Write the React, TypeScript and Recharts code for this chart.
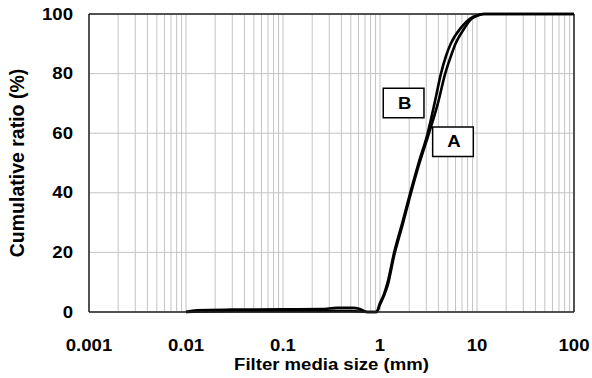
import React from "react";
import {
  LineChart,
  Line,
  XAxis,
  YAxis,
  CartesianGrid,
  ReferenceLine,
  ReferenceArea,
  Label,
} from "recharts";

// filter media A
const sizeA = [0.01, 0.02, 0.05, 0.2, 0.5, 0.75, 0.92, 1.0, 1.1, 1.2, 1.4, 1.7, 2.05, 2.5, 3.2, 3.95, 4.7, 5.4, 6.0, 7.5, 8.7, 10.5, 12, 100];
const ratioA = [0, 0.2, 0.3, 0.3, 0.3, 0, 0, 2.5, 5.5, 9, 19, 29, 39, 49, 60, 70, 80, 86, 90, 95.5, 98.3, 99.7, 100, 100];

// filter media B
const sizeB = [0.01, 0.013, 0.03, 0.1, 0.25, 0.36, 0.52, 0.62, 0.73, 0.92, 1.0, 1.1, 1.2, 1.4, 1.7, 2.05, 2.5, 3.1, 3.65, 4.25, 4.8, 5.36, 6.95, 8.5, 10.5, 11.5, 100];
const ratioB = [0, 0.6, 0.8, 0.9, 1.0, 1.4, 1.4, 1.0, 0, 0, 3, 6, 10, 20, 30, 40, 50, 60, 70, 80, 86, 90, 95.7, 98.5, 99.7, 100, 100];

const decades = [0.001, 0.01, 0.1, 1, 10, 100];
const multipliers = [1, 2, 3, 4, 5, 6, 7, 8, 9];
const yTicks = [0, 20, 40, 60, 80, 100];

const gridTicks = decades
  .slice(0, -1)
  .flatMap((d) => multipliers.map((m) => Number((d * m).toPrecision(3))))
  .concat([100]);

const dataA = sizeA.map((x, i) => ({ x, y: ratioA[i] }));
const dataB = sizeB.map((x, i) => ({ x, y: ratioB[i] }));

const font = "'Liberation Sans', Arial, sans-serif";
const textStyle = { fontSize: 16, fontWeight: "bold" as const, fill: "#000", fontFamily: font };
// the original picture is stretched a bit sideways
const stretch = 1.16;

const WideText = ({ x, y, anchor, dy, children }: any) => (
  <g transform={`translate(${x},${y})`}>
    <text transform={`scale(${stretch},1)`} textAnchor={anchor} dy={dy} style={textStyle}>
      {children}
    </text>
  </g>
);

const XTick = ({ x, y, payload }: any) =>
  decades.includes(payload.value) ? (
    <WideText x={x} y={y} anchor="middle" dy="0.71em">
      {String(payload.value)}
    </WideText>
  ) : null;

const YTick = ({ x, y, payload }: any) => (
  <WideText x={x} y={y} anchor="end" dy="0.355em">
    {payload.value}
  </WideText>
);

const XTitle = ({ viewBox }: any) => (
  <WideText x={viewBox.x + viewBox.width / 2} y={viewBox.y + viewBox.height - 8.5} anchor="middle" dy="0">
    Filter media size (mm)
  </WideText>
);

const BoxText = (value: string) => ({ viewBox }: any) => (
  <WideText x={viewBox.x + viewBox.width / 2 + 1} y={viewBox.y + viewBox.height / 2} anchor="middle" dy="0.355em">
    {value}
  </WideText>
);

const App = () => {
  return (
    <div style={{ position: "absolute", left: 0, top: 0 }}>
      <LineChart width={592} height={378} margin={{ top: 14, right: 18, left: 0, bottom: 0 }}>
        <CartesianGrid stroke="#c4c4c4" strokeWidth={1} />
        <XAxis
          dataKey="x"
          type="number"
          scale="log"
          domain={[0.001, 100]}
          ticks={gridTicks}
          interval={0}
          tick={<XTick />}
          tickLine={false}
          tickSize={6}
          tickMargin={22}
          axisLine={{ stroke: "#222", strokeWidth: 1.5 }}
          height={66}
          allowDataOverflow
        >
          <Label content={<XTitle />} />
        </XAxis>
        <YAxis
          type="number"
          domain={[0, 100]}
          ticks={yTicks}
          interval={0}
          tick={<YTick />}
          tickLine={false}
          tickSize={6}
          tickMargin={10}
          axisLine={{ stroke: "#222", strokeWidth: 1.5 }}
          width={89}
        >
          <Label
            value="Cumulative ratio (%)"
            angle={-90}
            position="insideLeft"
            offset={17}
            style={{ ...textStyle, fontSize: 19.5, textAnchor: "middle" }}
          />
        </YAxis>
        <ReferenceLine y={100} stroke="#222" strokeWidth={1.5} />
        <ReferenceLine x={100} stroke="#222" strokeWidth={1.5} />
        <Line
          data={dataA}
          dataKey="y"
          type="monotone"
          stroke="#000"
          strokeWidth={2.6}
          dot={false}
          isAnimationActive={false}
        />
        <Line
          data={dataB}
          dataKey="y"
          type="monotone"
          stroke="#000"
          strokeWidth={2.6}
          dot={false}
          isAnimationActive={false}
        />
        <ReferenceArea
          x1={1.08}
          x2={2.84}
          y1={65.2}
          y2={75.1}
          fill="#fff"
          fillOpacity={1}
          stroke="#000"
          strokeWidth={1.5}
          zIndex={1500}
        >
          <Label content={BoxText("B")} />
        </ReferenceArea>
        <ReferenceArea
          x1={3.49}
          x2={9.16}
          y1={52.2}
          y2={62.1}
          fill="#fff"
          fillOpacity={1}
          stroke="#000"
          strokeWidth={1.5}
          zIndex={1500}
        >
          <Label content={BoxText("A")} />
        </ReferenceArea>
      </LineChart>
    </div>
  );
};

export default App;
